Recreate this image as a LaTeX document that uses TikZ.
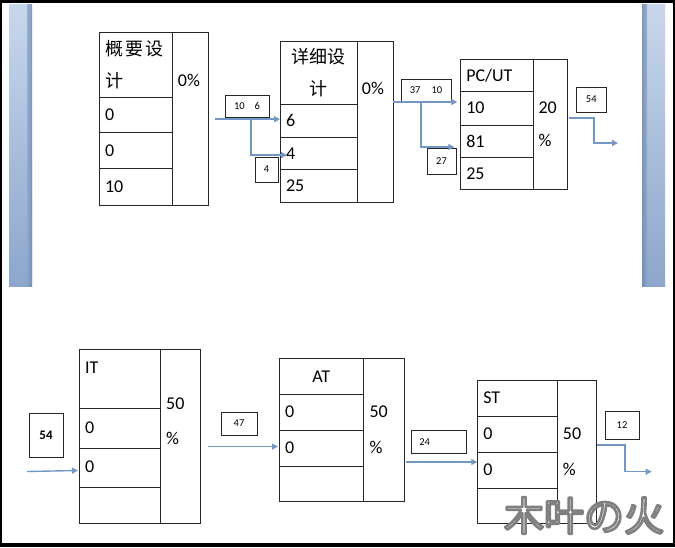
\documentclass[tikz,border=0pt]{standalone}
\usepackage{fontspec}
\setmainfont{Carlito}
\newfontfamily\cjk{Noto Sans CJK SC}
\usetikzlibrary{positioning, arrows.meta}
\definecolor{arrowblue}{RGB}{116,151,196}
\definecolor{barlight}{RGB}{200,215,236}
\definecolor{bardark}{RGB}{141,166,203}
\definecolor{baredge}{RGB}{112,136,172}
\newcommand{\outlined}[1]{\special{pdf:literal direct 2 Tr 2.6 w 1 j 0.5 G 1 g}#1\special{pdf:literal direct 0 Tr}}
\tikzset{
  cell/.style={draw=black!85, anchor=north west, inner xsep=6pt, inner ysep=0pt, outer sep=0pt, align=left, font=\fontsize{18}{20}\selectfont},
  c1/.style={cell, text width=61pt},
  c2/.style={cell, text width=64.7pt},
  c3/.style={cell, text width=60.4pt},
  c4/.style={cell, text width=69pt},
  c5/.style={cell, text width=72.3pt},
  c6/.style={cell, text width=68pt},
  col/.style={draw=black!85, anchor=north west, inner sep=0pt, outer sep=0pt},
  pct/.style={anchor=west, align=left, inner sep=0pt, font=\fontsize{18}{33}\selectfont},
  title/.style={font=\cjk\fontsize{18}{32}\selectfont},
  lbl/.style={draw=black!85, inner sep=0pt, font=\fontsize{10.5}{12}\selectfont},
  arrow/.style={draw=arrowblue, line width=1.4pt, -{Triangle[length=6pt,width=6pt]}},
  wmark/.style={inner sep=0pt, font=\cjk\fontsize{40}{40}\selectfont}
}
\begin{document}
\begin{tikzpicture}[x=1pt, y=-1pt]
  \useasboundingbox (0,0) rectangle (675,547);
  \fill[black] (0,0) rectangle (675,547);
  \fill[white] (2.3,3.3) rectangle (673,543.3);

  % side bars
  \shade[top color=barlight, bottom color=bardark] (9,4) rectangle (32,286);
  \shade[left color=bardark, right color=baredge, opacity=0.8] (27,4) rectangle (32,286);
  \shade[top color=barlight, bottom color=bardark] (642,4) rectangle (665,286);
  \shade[left color=baredge, right color=bardark, opacity=0.8] (642,4) rectangle (647,286);

  % stage 1
  \node (s1t) [c1, title, minimum height=64.7pt] at (99,32) {概\hspace{2.5pt}要\hspace{2.5pt}设\\计};
  \node (s1a) [c1, minimum height=35.6pt, below=0pt of s1t] {0};
  \node (s1b) [c1, minimum height=36pt, below=0pt of s1a] {0};
  \node (s1c) [c1, minimum height=36.7pt, below=0pt of s1b] {10};
  \node (s1p) [col, minimum width=36pt, minimum height=173pt] at (s1t.north east) {};
  \node (s1n) [pct] at ([xshift=5.7pt,yshift=-48.5pt]s1p.north west) {0\%};

  % stage 2
  \node (s2t) [c2, title, align=center, minimum height=63.3pt] at (280,40.7) {详细设\\计};
  \node (s2a) [c2, minimum height=33.3pt, below=0pt of s2t] {6};
  \node (s2b) [c2, minimum height=32pt, below=0pt of s2a] {4};
  \node (s2c) [c2, minimum height=32.4pt, below=0pt of s2b] {25};
  \node (s2p) [col, minimum width=36.6pt, minimum height=161pt] at (s2t.north east) {};
  \node (s2n) [pct] at ([xshift=5pt,yshift=-47.3pt]s2p.north west) {0\%};

  % stage 3
  \node (s3t) [c3, minimum height=32pt] at (460.3,59.3) {PC/UT};
  \node (s3a) [c3, minimum height=33.4pt, below=0pt of s3t] {10};
  \node (s3b) [c3, minimum height=32.6pt, below=0pt of s3a] {81};
  \node (s3c) [c3, minimum height=32pt, below=0pt of s3b] {25};
  \node (s3p) [col, minimum width=34.6pt, minimum height=130pt] at (s3t.north east) {};
  \node (s3n) [pct] at ([xshift=5.6pt,yshift=-65.2pt]s3p.north west) {20\\\%};

  % stage 4
  \node (s4t) [c4, minimum height=58.4pt, text height=12pt, text depth=22.4pt] at (79,349.3) {IT};
  \node (s4a) [c4, minimum height=40pt, below=0pt of s4t] {0};
  \node (s4b) [c4, minimum height=39pt, below=0pt of s4a] {0};
  \node (s4c) [c4, minimum height=36pt, below=0pt of s4b] {};
  \node (s4p) [col, minimum width=40pt, minimum height=173.4pt] at (s4t.north east) {};
  \node (s4n) [pct, font=\fontsize{18}{35}\selectfont] at ([xshift=6pt,yshift=-72pt]s4p.north west) {50\\\%};

  % stage 5
  \node (s5t) [c5, align=center, minimum height=36pt] at (279,358.3) {AT};
  \node (s5a) [c5, minimum height=35.7pt, below=0pt of s5t] {0};
  \node (s5b) [c5, minimum height=35.7pt, below=0pt of s5a] {0};
  \node (s5c) [c5, minimum height=35.3pt, below=0pt of s5b] {};
  \node (s5p) [col, minimum width=40.7pt, minimum height=142.7pt] at (s5t.north east) {};
  \node (s5n) [pct, font=\fontsize{18}{36}\selectfont] at ([xshift=6pt,yshift=-71.4pt]s5p.north west) {50\\\%};

  % stage 6
  \node (s6t) [c6, minimum height=35.7pt] at (477.3,380) {ST};
  \node (s6a) [c6, minimum height=36.6pt, below=0pt of s6t] {0};
  \node (s6b) [c6, minimum height=35.4pt, below=0pt of s6a] {0};
  \node (s6c) [c6, minimum height=35pt, below=0pt of s6b] {};
  \node (s6p) [col, minimum width=38.4pt, minimum height=142.7pt] at (s6t.north east) {};
  \node (s6n) [pct, font=\fontsize{18}{36}\selectfont] at ([xshift=5.4pt,yshift=-72pt]s6p.north west) {50\\\%};

  % counts
  \node (l1) [lbl, minimum width=44pt, minimum height=22pt] at (247,106) {10\hspace{10pt}6};
  \node (l2) [lbl, minimum width=23pt, minimum height=25pt] at (266.5,169.5) {4};
  \node (l3) [lbl, minimum width=50pt, minimum height=22pt] at (426,90) {37\hspace{11pt}10};
  \node (l4) [lbl, minimum width=28.4pt, minimum height=26pt] at (441.5,161) {27};
  \node (l5) [lbl, minimum width=30.7pt, minimum height=25pt] at (591.3,99.5) {54};
  \node (l6) [lbl, minimum width=33.4pt, minimum height=43.4pt, font=\bfseries\fontsize{13}{14}\selectfont] at (46,435) {54};
  \node (l7) [lbl, minimum width=35.4pt, minimum height=23.6pt] at (239,423.5) {47};
  \node (l8) [lbl, inner xsep=8pt, text width=39pt, align=left, minimum height=23.7pt] at (438.8,441.8) {24};
  \node (l9) [lbl, minimum width=33.4pt, minimum height=28pt] at (622,424.7) {12};

  % flows
  \coordinate (a1) at ([yshift=1.5pt]s2a.west);
  \draw [arrow] ([xshift=7pt]s1p.east |- a1) -- (a1);
  \draw [arrow] ([xshift=4pt]l1.south |- a1) |- ([xshift=7pt,yshift=-1.7pt]s2b.west);
  \coordinate (a2) at ([xshift=-3pt,yshift=6pt]s3a.west);
  \draw [arrow] (s2p.east |- a2) -- (a2);
  \draw [arrow] ([xshift=-5pt]l3.south |- a2) |- ([xshift=-6pt,yshift=-6pt]s3b.west);
  \coordinate (o1) at (618,143);
  \draw [arrow] ([xshift=2pt,yshift=6.3pt]s3p.east) -| ([xshift=-24pt]o1) -- (o1);

  \coordinate (i1) at (27,471.5);
  \draw [arrow] (i1) -- ([xshift=-1pt,yshift=-3.3pt]s4b.west);
  \coordinate (a4) at ([xshift=-1pt,yshift=1.3pt]s5b.west);
  \draw [arrow] ([xshift=8pt]s4p.east |- a4) -- (a4);
  \coordinate (a5) at ([yshift=8pt]s6b.west);
  \draw [arrow] ([xshift=2pt]s5p.east |- a5) -- (a5);
  \coordinate (o2) at (651.7,471.7);
  \draw [arrow] ([xshift=1.6pt,yshift=6.3pt]s6p.east) -| ([xshift=-26.7pt]o2) -- (o2);

  % watermark
  \node (wm) [wmark] at (584,515.5) {\outlined{木叶の火}};
\end{tikzpicture}
\end{document}
